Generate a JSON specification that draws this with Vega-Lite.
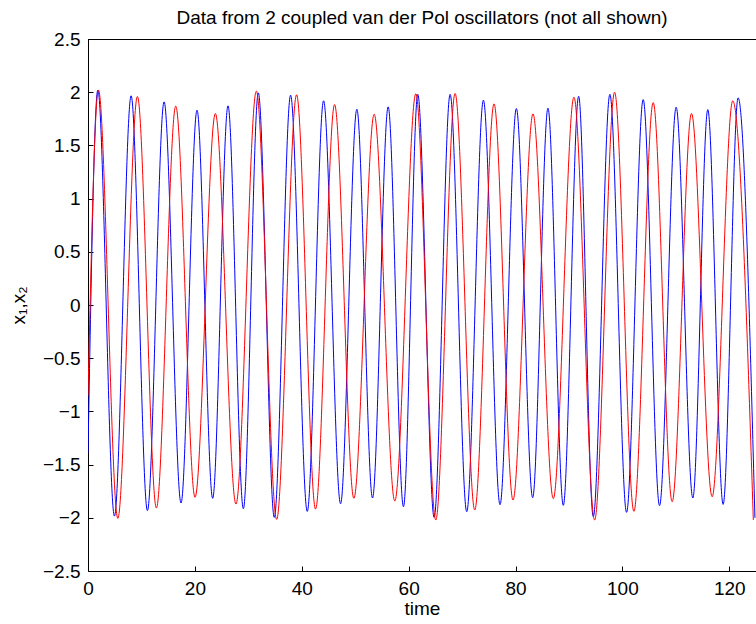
{
  "$schema": "https://vega.github.io/schema/vega-lite/v6.json",
  "width": 668,
  "height": 532,
  "autosize": {"type": "none"},
  "padding": {"left": 88, "top": 39, "right": 0, "bottom": 53},
  "background": "white",
  "config": {
    "font": "Liberation Sans",
    "view": {"stroke": null},
    "axis": {"grid": false, "domainColor": "#000", "tickColor": "#000", "labelColor": "#000", "titleColor": "#000", "labelFont": "Liberation Sans", "titleFont": "Liberation Sans", "labelFontSize": 19, "titleFontSize": 19, "titleFontWeight": "normal", "domainWidth": 1, "tickWidth": 1}
  },
  "title": {"text": "Data from 2 coupled van der Pol oscillators (not all shown)", "fontSize": 19, "fontWeight": "normal", "font": "Liberation Sans", "color": "#000", "offset": 2},
  "data": {"values": [
    {"t": 0, "v": -1.39, "s": "x1"},
    {"t": 1.84, "v": 2.02, "s": "x1"},
    {"t": 4.95, "v": -1.984, "s": "x1"},
    {"t": 8.07, "v": 1.966, "s": "x1"},
    {"t": 11.12, "v": -1.933, "s": "x1"},
    {"t": 14.24, "v": 1.909, "s": "x1"},
    {"t": 17.41, "v": -1.861, "s": "x1"},
    {"t": 20.4, "v": 1.831, "s": "x1"},
    {"t": 23.33, "v": -1.817, "s": "x1"},
    {"t": 26.2, "v": 1.872, "s": "x1"},
    {"t": 29.07, "v": -1.915, "s": "x1"},
    {"t": 31.87, "v": 1.994, "s": "x1"},
    {"t": 34.86, "v": -1.996, "s": "x1"},
    {"t": 37.91, "v": 1.972, "s": "x1"},
    {"t": 41.03, "v": -1.94, "s": "x1"},
    {"t": 44.08, "v": 1.919, "s": "x1"},
    {"t": 47.26, "v": -1.868, "s": "x1"},
    {"t": 50.31, "v": 1.84, "s": "x1"},
    {"t": 53.24, "v": -1.814, "s": "x1"},
    {"t": 56.17, "v": 1.862, "s": "x1"},
    {"t": 59.03, "v": -1.896, "s": "x1"},
    {"t": 61.71, "v": 1.98, "s": "x1"},
    {"t": 64.77, "v": -1.996, "s": "x1"},
    {"t": 67.76, "v": 1.98, "s": "x1"},
    {"t": 70.87, "v": -1.943, "s": "x1"},
    {"t": 73.99, "v": 1.925, "s": "x1"},
    {"t": 77.1, "v": -1.877, "s": "x1"},
    {"t": 80.16, "v": 1.847, "s": "x1"},
    {"t": 83.21, "v": -1.811, "s": "x1"},
    {"t": 86.07, "v": 1.85, "s": "x1"},
    {"t": 88.94, "v": -1.883, "s": "x1"},
    {"t": 91.81, "v": 1.962, "s": "x1"},
    {"t": 94.55, "v": -1.99, "s": "x1"},
    {"t": 97.66, "v": 1.98, "s": "x1"},
    {"t": 100.78, "v": -1.949, "s": "x1"},
    {"t": 103.89, "v": 1.931, "s": "x1"},
    {"t": 106.95, "v": -1.886, "s": "x1"},
    {"t": 110.06, "v": 1.859, "s": "x1"},
    {"t": 113.18, "v": -1.814, "s": "x1"},
    {"t": 115.98, "v": 1.837, "s": "x1"},
    {"t": 118.85, "v": -1.874, "s": "x1"},
    {"t": 121.65, "v": 1.947, "s": "x1"},
    {"t": 124.8, "v": -2.0, "s": "x1"},
    {"t": 0, "v": -0.85, "s": "x2"},
    {"t": 1.96, "v": 2.02, "s": "x2"},
    {"t": 5.58, "v": -2.005, "s": "x2"},
    {"t": 9.25, "v": 1.96, "s": "x2"},
    {"t": 12.8, "v": -1.908, "s": "x2"},
    {"t": 16.42, "v": 1.869, "s": "x2"},
    {"t": 20.03, "v": -1.808, "s": "x2"},
    {"t": 23.83, "v": 1.8, "s": "x2"},
    {"t": 27.69, "v": -1.871, "s": "x2"},
    {"t": 31.5, "v": 2.01, "s": "x2"},
    {"t": 35.3, "v": -2.015, "s": "x2"},
    {"t": 39.03, "v": 1.976, "s": "x2"},
    {"t": 42.58, "v": -1.918, "s": "x2"},
    {"t": 46.14, "v": 1.884, "s": "x2"},
    {"t": 49.75, "v": -1.817, "s": "x2"},
    {"t": 53.55, "v": 1.793, "s": "x2"},
    {"t": 57.41, "v": -1.842, "s": "x2"},
    {"t": 61.34, "v": 1.985, "s": "x2"},
    {"t": 65.08, "v": -2.021, "s": "x2"},
    {"t": 68.69, "v": 1.988, "s": "x2"},
    {"t": 72.37, "v": -1.927, "s": "x2"},
    {"t": 75.98, "v": 1.89, "s": "x2"},
    {"t": 79.53, "v": -1.833, "s": "x2"},
    {"t": 83.27, "v": 1.796, "s": "x2"},
    {"t": 87.07, "v": -1.82, "s": "x2"},
    {"t": 90.93, "v": 1.953, "s": "x2"},
    {"t": 94.8, "v": -2.021, "s": "x2"},
    {"t": 98.54, "v": 2.0, "s": "x2"},
    {"t": 102.15, "v": -1.94, "s": "x2"},
    {"t": 105.76, "v": 1.903, "s": "x2"},
    {"t": 109.31, "v": -1.849, "s": "x2"},
    {"t": 112.93, "v": 1.8, "s": "x2"},
    {"t": 116.79, "v": -1.802, "s": "x2"},
    {"t": 120.65, "v": 1.919, "s": "x2"},
    {"t": 124.5, "v": -2.02, "s": "x2"}
  ]},
  "encoding": {
    "x": {"field": "t", "type": "quantitative", "scale": {"domain": [0, 125], "nice": false, "zero": false},
      "axis": {"title": "time", "values": [0, 20, 40, 60, 80, 100, 120], "format": "d", "tickSize": -5, "labelPadding": 13, "titlePadding": 1, "labelFlush": false}},
    "y": {"field": "v", "type": "quantitative", "scale": {"domain": [-2.5, 2.5], "nice": false, "zero": false},
      "axis": {"title": "x₁,x₂", "values": [-2.5, -2, -1.5, -1, -0.5, 0, 0.5, 1, 1.5, 2, 2.5], "format": "~g", "tickSize": -5, "labelPadding": 13, "titleAngle": -90, "titleAlign": "center", "titleBaseline": "middle", "titleX": -70, "titleY": 266, "labelFlush": false}}
  },
  "layer": [
    {"transform": [{"filter": "datum.s === 'x1'"}], "mark": {"type": "line", "interpolate": "monotone", "color": "#0000ff", "strokeWidth": 1, "clip": true}},
    {"transform": [{"filter": "datum.s === 'x2'"}], "mark": {"type": "line", "interpolate": "monotone", "color": "#ff0000", "strokeWidth": 1, "clip": true}},
    {"mark": {"type": "rule", "color": "#000", "strokeWidth": 1, "yOffset": 0.5}, "encoding": {"x": {"datum": 0}, "y": {"datum": 2.5}, "x2": {"datum": 125}}},
    {"data": {"values": [{"tt": 20}, {"tt": 40}, {"tt": 60}, {"tt": 80}, {"tt": 100}, {"tt": 120}]}, "mark": {"type": "rule", "color": "#000", "strokeWidth": 1, "xOffset": 0.5}, "encoding": {"x": {"field": "tt", "type": "quantitative"}, "y": {"datum": 2.5}, "y2": {"datum": 2.405}}},
    {"data": {"values": [{"vv": -2}, {"vv": -1.5}, {"vv": -1}, {"vv": -0.5}, {"vv": 0}, {"vv": 0.5}, {"vv": 1}, {"vv": 1.5}, {"vv": 2}]}, "mark": {"type": "rule", "color": "#000", "strokeWidth": 1, "yOffset": 0.5}, "encoding": {"y": {"field": "vv", "type": "quantitative"}, "x": {"datum": 125}, "x2": {"datum": 124.1}}}
  ]
}
